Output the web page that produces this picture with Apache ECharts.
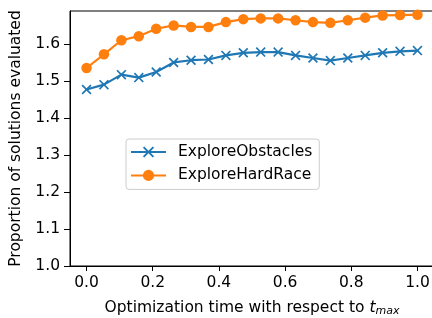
<!DOCTYPE html>
<html lang="en">
<head>
  <meta charset="UTF-8">
  <title>echarts</title>
  <style>
    * {
      margin: 0;
      padding: 0;
    }
    #main {
      width: 432px;
      height: 318px;
    }
  </style>
</head>
<body>
  <div id="main"></div>
  <script src="https://cdn.jsdelivr.net/npm/echarts@6/dist/echarts.min.js"></script>
  <script>
    // 数据
    var xValues = [0, 0.0526, 0.1053, 0.1579, 0.2105, 0.2632, 0.3158, 0.3684, 0.4211, 0.4737,
      0.5263, 0.5789, 0.6316, 0.6842, 0.7368, 0.7895, 0.8421, 0.8947, 0.9474, 1.0];
    var obstacles = [1.477, 1.490, 1.517, 1.509, 1.524, 1.550, 1.556, 1.558, 1.569, 1.576,
      1.578, 1.578, 1.569, 1.562, 1.555, 1.562, 1.569, 1.576, 1.580, 1.582];
    var hardRace = [1.535, 1.572, 1.610, 1.621, 1.641, 1.650, 1.646, 1.646, 1.659, 1.667,
      1.669, 1.669, 1.664, 1.659, 1.657, 1.664, 1.671, 1.677, 1.678, 1.679];
    var xTicks = [0, 0.2, 0.4, 0.6, 0.8, 1.0];
    var yTicks = [1.0, 1.1, 1.2, 1.3, 1.4, 1.5, 1.6];

    function pairs(ys) {
      return xValues.map(function (x, i) { return [x, ys[i]]; });
    }

    // x 形状的标记
    var crossPath = 'path://M1.2,0L5,3.8L8.8,0L10,1.2L6.2,5L10,8.8L8.8,10L5,6.2L1.2,10L0,8.8L3.8,5L0,1.2Z';

    var font = 'DejaVu Sans';
    var fs = 15.5;
    var myCharts = echarts.init(document.getElementById('main'));

    var option = {
      animation: false,
      grid: {
        left: 70,
        right: -2,
        top: 11,
        bottom: 52,
        outerBoundsMode: 'none',
        show: true,
        borderColor: '#000',
        borderWidth: 1,
        backgroundColor: 'transparent'
      },
      legend: {
        orient: 'vertical',
        left: 126,
        top: 139,
        padding: [4, 7, 5, 4],
        itemWidth: 35,
        itemHeight: 14,
        itemGap: 5.4,
        borderColor: '#cccccc',
        borderWidth: 1,
        borderRadius: 3,
        backgroundColor: 'rgba(255,255,255,0.8)',
        textStyle: {
          fontFamily: font,
          fontSize: fs,
          lineHeight: 18,
          color: '#000',
          padding: [0, 0, 0, 7]
        },
        data: ['ExploreObstacles', 'ExploreHardRace']
      },
      xAxis: {
        type: 'value',
        min: -0.05,
        max: 1.05,
        name: '{a|Optimization time with respect to }{t|t}{s|max}',
        nameLocation: 'middle',
        nameGap: 33,
        nameTextStyle: {
          rich: {
            a: { fontFamily: font, fontSize: fs, color: '#000' },
            t: { fontFamily: font, fontSize: fs, fontStyle: 'italic', color: '#000' },
            s: { fontFamily: font, fontSize: 11, fontStyle: 'italic', color: '#000', padding: [7, 0, 0, 0] }
          }
        },
        splitLine: { show: false },
        axisLine: { onZero: false, lineStyle: { color: '#000', width: 1 } },
        axisTick: { length: 5, lineStyle: { color: '#000' }, customValues: xTicks },
        axisLabel: {
          fontFamily: font, fontSize: fs, color: '#000', margin: 9,
          customValues: xTicks,
          formatter: function (v) { return v.toFixed(1); }
        }
      },
      yAxis: {
        type: 'value',
        min: 1.0,
        max: 1.689,
        name: 'Proportion of solutions evaluated',
        nameLocation: 'middle',
        nameGap: 40,
        nameTextStyle: { fontFamily: font, fontSize: fs, color: '#000' },
        splitLine: { show: false },
        axisLine: { show: true, onZero: false, lineStyle: { color: '#000', width: 1 } },
        axisTick: { show: true, length: 6, lineStyle: { color: '#000' }, customValues: yTicks },
        axisLabel: {
          fontFamily: font, fontSize: fs, color: '#000', margin: 10,
          customValues: yTicks,
          formatter: function (v) { return v.toFixed(1); }
        }
      },
      series: [
        {
          name: 'ExploreObstacles',
          type: 'line',
          data: pairs(obstacles),
          symbol: crossPath,
          symbolSize: 10,
          showAllSymbol: true,
          color: '#1f77b4',
          lineStyle: { width: 2.2, color: '#1f77b4' },
          itemStyle: { color: '#1f77b4' }
        },
        {
          name: 'ExploreHardRace',
          type: 'line',
          data: pairs(hardRace),
          symbol: 'circle',
          symbolSize: 10.5,
          showAllSymbol: true,
          color: '#ff7f0e',
          lineStyle: { width: 2.2, color: '#ff7f0e' },
          itemStyle: { color: '#ff7f0e' }
        }
      ]
    };

    myCharts.setOption(option);
  </script>
</body>
</html>
